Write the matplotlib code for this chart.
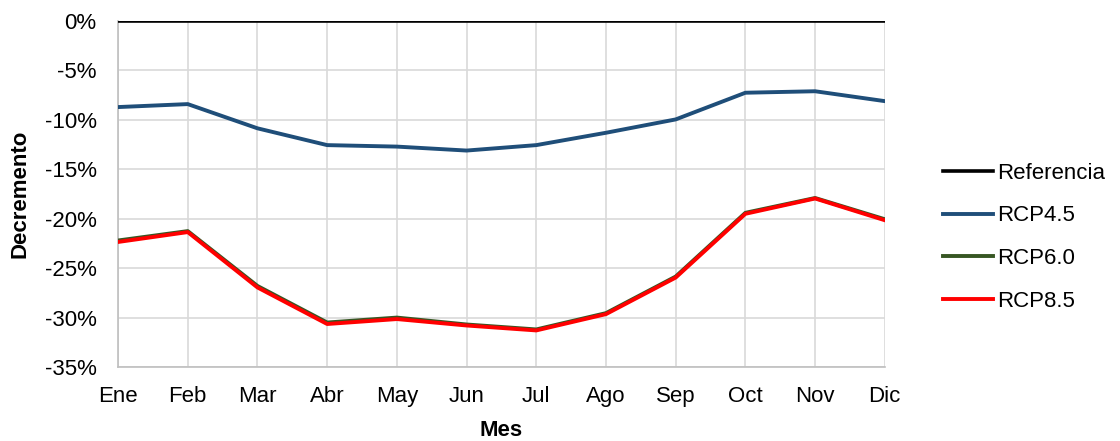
import matplotlib
matplotlib.use("Agg")
import matplotlib.pyplot as plt
from matplotlib.ticker import FuncFormatter

plt.rcParams['font.family'] = ['Liberation Sans', 'DejaVu Sans']

meses = ["Ene", "Feb", "Mar", "Abr", "May", "Jun", "Jul", "Ago", "Sep", "Oct", "Nov", "Dic"]
referencia = [0.0] * 12
rcp45 = [-8.7, -8.4, -10.85, -12.55, -12.7, -13.1, -12.55, -11.3, -9.95, -7.25, -7.1, -8.1]
rcp60 = [-22.2, -21.25, -26.8, -30.5, -30.0, -30.7, -31.2, -29.55, -25.85, -19.4, -17.9, -20.05]
rcp85 = [-22.35, -21.35, -26.95, -30.65, -30.15, -30.8, -31.3, -29.65, -25.95, -19.5, -17.95, -20.15]
yticks = [0, -5, -10, -15, -20, -25, -30, -35]

FS = 16

fig = plt.figure(figsize=(11.2, 4.41), dpi=100)
ax = fig.add_axes([0.1054, 0.1678, 0.6846, 0.7844])

x = list(range(len(meses)))
ax.plot(x, referencia, color="#000000", lw=2.6, label="Referencia", zorder=3)
ax.plot(x, rcp45, color="#1f4e79", lw=2.8, label="RCP4.5", zorder=3)
ax.plot(x, rcp60, color="#375623", lw=2.8, label="RCP6.0", zorder=3)
ax.plot(x, rcp85, color="#ff0000", lw=2.8, label="RCP8.5", zorder=4)

ax.set_xlim(0, 11)
ax.set_ylim(-35, 0)
ax.set_xticks(x)
ax.set_xticklabels(meses)
ax.set_yticks(yticks)
ax.yaxis.set_major_formatter(FuncFormatter(lambda v, p: f"{v:.0f}%"))
ax.tick_params(axis="both", length=0, labelsize=FS, colors="#000000")
ax.tick_params(axis="x", pad=14)
ax.tick_params(axis="y", pad=15.5)

ax.grid(True, color="#d9d9d9", lw=1.2, zorder=0)
ax.set_axisbelow(True)
for side in ["top", "right"]:
    ax.spines[side].set_visible(False)
for side in ["left", "bottom"]:
    ax.spines[side].set_color("#bfbfbf")
    ax.spines[side].set_linewidth(1.2)

ax.set_xlabel("Mes", fontsize=FS, fontweight="bold", labelpad=9)
ax.set_ylabel("Decremento", fontsize=FS, fontweight="bold", labelpad=10)

leg = ax.legend(loc="center left", bbox_to_anchor=(1.0756, 0.375), frameon=False,
                fontsize=FS, handlelength=2.25, handletextpad=0.2, labelspacing=0.98,
                borderpad=0, borderaxespad=0)

fig.savefig("out.png", dpi=100)
